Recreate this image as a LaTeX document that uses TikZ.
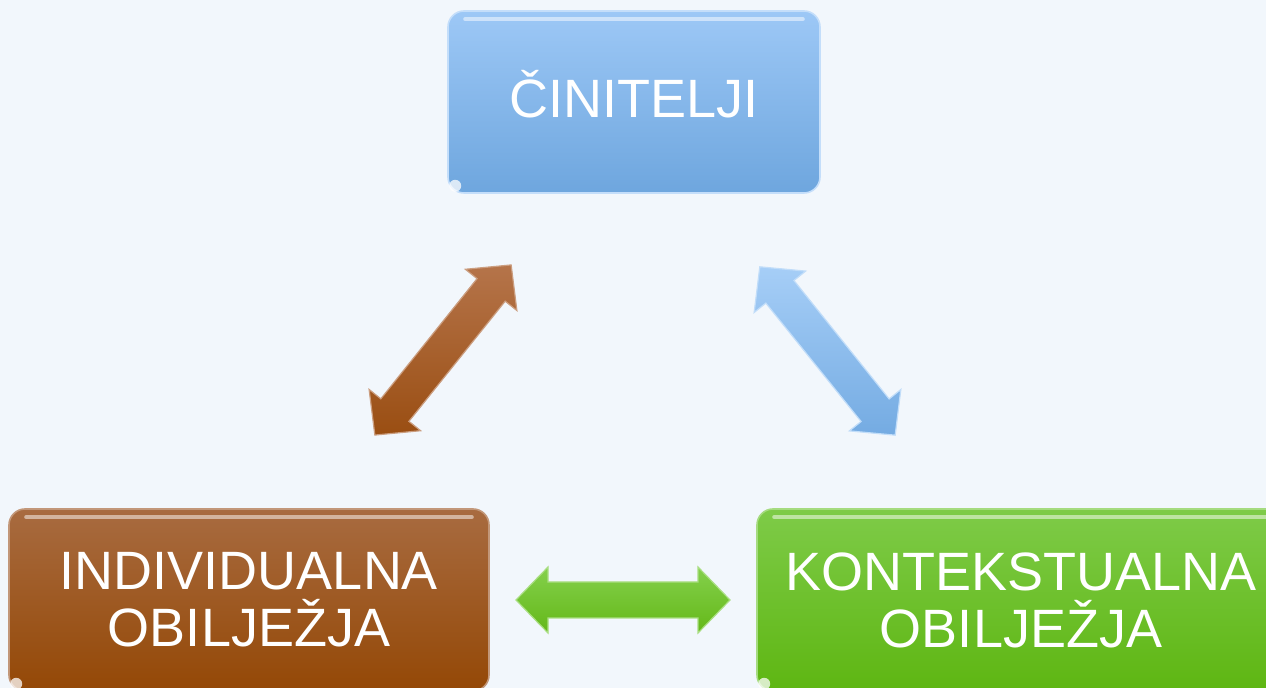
\documentclass[tikz,border=0pt]{standalone}
\usepackage{fontspec}
\setmainfont{Liberation Sans}
\definecolor{bg}{HTML}{F2F7FC}
\definecolor{blueT}{HTML}{9DC8F6}
\definecolor{blueB}{HTML}{6EA6DE}
\definecolor{brownT}{HTML}{A86B40}
\definecolor{brownB}{HTML}{944806}
\definecolor{greenT}{HTML}{7ECB48}
\definecolor{greenB}{HTML}{5EB612}
\definecolor{abrownT}{HTML}{B5744A}
\definecolor{abrownB}{HTML}{9A4E12}
\definecolor{ablueT}{HTML}{A6CEF7}
\definecolor{ablueB}{HTML}{74ABE2}
\definecolor{agreenT}{HTML}{84D04C}
\definecolor{agreenB}{HTML}{64B818}
\tikzset{
  box/.style={rectangle, rounded corners=8pt, text=white, align=center,
    font=\fontsize{27}{28.5}\selectfont, inner sep=0pt, line width=0.8pt},
  gloss/.style={line width=2pt, line cap=round, white, opacity=0.5},
  spot/.style={white, opacity=0.75},
}
\newcommand{\blockarrow}[6]{%
  \begin{scope}[shift={(#1,#2)}, rotate=#3]
    \path[top color=#5, bottom color=#6, draw=#5!70!white, line width=0.6pt, line join=miter]
      (-#4,0) -- (-#4+32,33) -- (-#4+32,18) -- (#4-32,18) -- (#4-32,33) -- (#4,0)
      -- (#4-32,-33) -- (#4-32,-18) -- (-#4+32,-18) -- (-#4+32,-33) -- cycle;
  \end{scope}}
\begin{document}
\begin{tikzpicture}[x=0.5pt,y=-0.5pt]
  \fill[bg] (0,0) rectangle (1266,688);
  \useasboundingbox (0,0) rectangle (1266,688);
  \clip (0,0) rectangle (1266,688);

  % boxes
  \node[box, top color=blueT, bottom color=blueB, draw=blueT!60!white,
        minimum width=186pt, minimum height=91pt, text height=16pt, text depth=0pt]
        (top) at (634,102) {ČINITELJI};
  \node[box, top color=brownT, bottom color=brownB, draw=brownT!70!white,
        minimum width=240pt, minimum height=91pt] (ind) at (249,600) {INDIVIDUALNA\\OBILJEŽJA};
  \node[box, top color=greenT, bottom color=greenB, draw=greenT!70!white,
        minimum width=264pt, minimum height=91pt] (kon) at (1021,600) {KONTEKSTUALNA\\OBILJEŽJA};

  % glossy highlights
  \foreach \n in {top,ind,kon}{
    \draw[gloss] ([xshift=9pt,yshift=-4.5pt]\n.north west) -- ([xshift=-9pt,yshift=-4.5pt]\n.north east);
    \fill[spot] ([xshift=4pt,yshift=4pt]\n.south west) circle (3pt);
  }

  % block arrows
  \blockarrow{443}{350}{51.3}{109}{abrownT}{abrownB}
  \blockarrow{827.5}{351}{-51.2}{108}{ablueT}{ablueB}
  \blockarrow{623}{600}{0}{107}{agreenT}{agreenB}
\end{tikzpicture}
\end{document}
